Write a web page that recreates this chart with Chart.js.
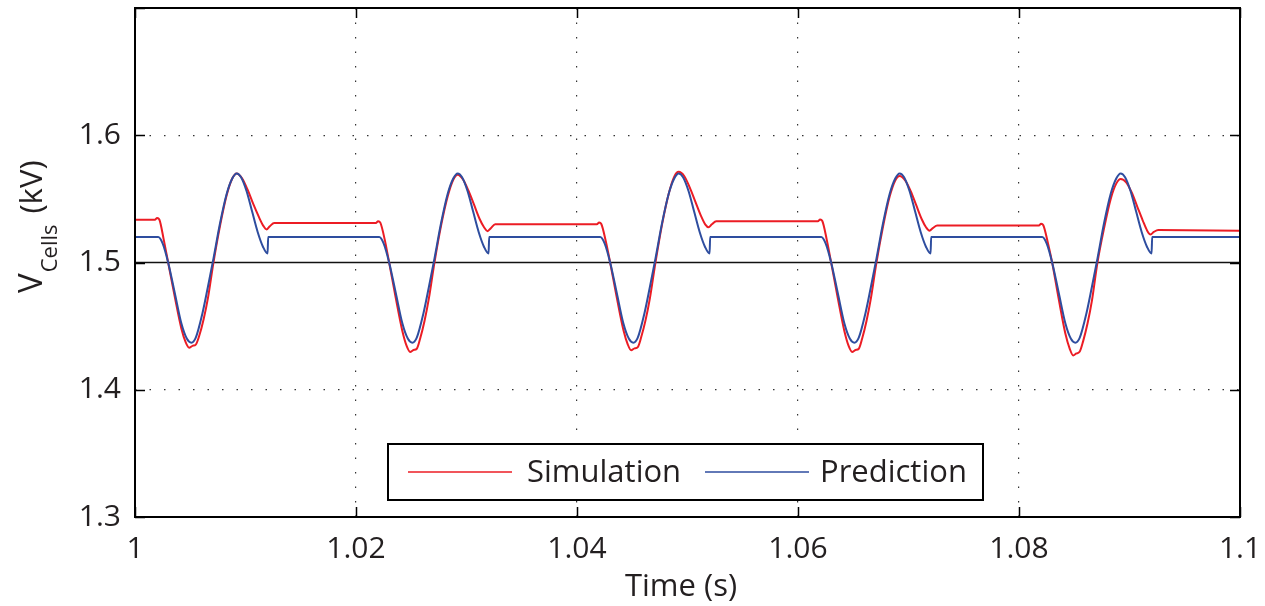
<!DOCTYPE html>
<html>
<head>
<meta charset="utf-8">
<script src="https://cdn.jsdelivr.net/npm/chart.js@4/dist/chart.umd.min.js"></script>
<style>
  html, body { margin: 0; padding: 0; background: #fff; }
</style>
</head>
<body>
<canvas id="canvasChart" width="1265" height="606"></canvas>
<script>
// axis ticks
var xTicks = [1, 1.02, 1.04, 1.06, 1.08, 1.1];
var yTicks = [1.3, 1.4, 1.5, 1.6, 1.7];
var refLevel = 1.5;

// Simulation (red)
var simTime = [
  1.0000, 1.0018, 1.0020, 1.0022, 1.0026, 1.0030, 1.0036, 1.0042, 1.0046, 1.0049, 1.0052, 1.0055, 1.0058, 1.0062,
  1.0066, 1.0071, 1.0077, 1.0083, 1.0088, 1.0092, 1.0097, 1.0102, 1.0107, 1.0112, 1.0116, 1.0119, 1.0122, 1.0126,
  1.0218, 1.0220, 1.0222, 1.0226, 1.0230, 1.0236, 1.0242, 1.0246, 1.0249, 1.0252, 1.0255, 1.0258, 1.0262,
  1.0266, 1.0271, 1.0277, 1.0283, 1.0288, 1.0292, 1.0297, 1.0302, 1.0307, 1.0312, 1.0316, 1.0319, 1.0322, 1.0326,
  1.0418, 1.0420, 1.0422, 1.0426, 1.0430, 1.0436, 1.0442, 1.0446, 1.0449, 1.0452, 1.0455, 1.0458, 1.0462,
  1.0466, 1.0471, 1.0477, 1.0483, 1.0488, 1.0492, 1.0497, 1.0502, 1.0507, 1.0512, 1.0516, 1.0519, 1.0522, 1.0526,
  1.0618, 1.0620, 1.0622, 1.0626, 1.0630, 1.0636, 1.0642, 1.0646, 1.0649, 1.0652, 1.0655, 1.0658, 1.0662,
  1.0666, 1.0671, 1.0677, 1.0683, 1.0688, 1.0692, 1.0697, 1.0702, 1.0707, 1.0712, 1.0716, 1.0719, 1.0722, 1.0726,
  1.0818, 1.0820, 1.0822, 1.0826, 1.0830, 1.0836, 1.0842, 1.0846, 1.0849, 1.0852, 1.0855, 1.0858, 1.0862,
  1.0866, 1.0871, 1.0877, 1.0883, 1.0888, 1.0892, 1.0897, 1.0902, 1.0907, 1.0912, 1.0916, 1.0919, 1.0922, 1.0926,
  1.1000
];
var simVolt = [
  1.5335, 1.5335, 1.5350, 1.5338, 1.5180, 1.5000, 1.4730, 1.4480, 1.4370, 1.4330, 1.4345, 1.4355, 1.4420, 1.4550,
  1.4720, 1.5000, 1.5290, 1.5530, 1.5660, 1.5700, 1.5660, 1.5570, 1.5460, 1.5360, 1.5290, 1.5260, 1.5285, 1.5310,
  1.5310, 1.5325, 1.5313, 1.5180, 1.5000, 1.4720, 1.4460, 1.4340, 1.4297, 1.4312, 1.4322, 1.4400, 1.4540,
  1.4720, 1.5000, 1.5290, 1.5520, 1.5650, 1.5690, 1.5650, 1.5560, 1.5450, 1.5340, 1.5275, 1.5246, 1.5270, 1.5300,
  1.5300, 1.5315, 1.5303, 1.5170, 1.5000, 1.4725, 1.4470, 1.4355, 1.4310, 1.4325, 1.4335, 1.4410, 1.4545,
  1.4720, 1.5000, 1.5300, 1.5540, 1.5675, 1.5713, 1.5680, 1.5590, 1.5480, 1.5370, 1.5300, 1.5277, 1.5300, 1.5324,
  1.5324, 1.5338, 1.5326, 1.5180, 1.5000, 1.4720, 1.4460, 1.4340, 1.4297, 1.4312, 1.4322, 1.4400, 1.4540,
  1.4720, 1.5000, 1.5285, 1.5520, 1.5645, 1.5680, 1.5645, 1.5560, 1.5450, 1.5340, 1.5275, 1.5250, 1.5270, 1.5290,
  1.5290, 1.5305, 1.5293, 1.5160, 1.5000, 1.4710, 1.4440, 1.4320, 1.4270, 1.4285, 1.4300, 1.4380, 1.4520,
  1.4700, 1.5000, 1.5270, 1.5500, 1.5620, 1.5656, 1.5630, 1.5550, 1.5440, 1.5330, 1.5250, 1.5220, 1.5240, 1.5256,
  1.5250
];

// Prediction (blue)
var predTime = [
  1.0000, 1.0021, 1.0025, 1.0030, 1.0036, 1.0042, 1.0047, 1.0051, 1.0055, 1.0061, 1.0066, 1.0071,
  1.0077, 1.0083, 1.0088, 1.0092, 1.0096, 1.0101, 1.0106, 1.0111, 1.0116, 1.0120, 1.01205,
  1.0221, 1.0225, 1.0230, 1.0236, 1.0242, 1.0247, 1.0251, 1.0255, 1.0261, 1.0266, 1.0271,
  1.0277, 1.0283, 1.0288, 1.0292, 1.0296, 1.0301, 1.0306, 1.0311, 1.0316, 1.0320, 1.03205,
  1.0421, 1.0425, 1.0430, 1.0436, 1.0442, 1.0447, 1.0451, 1.0455, 1.0461, 1.0466, 1.0471,
  1.0477, 1.0483, 1.0488, 1.0492, 1.0496, 1.0501, 1.0506, 1.0511, 1.0516, 1.0520, 1.05205,
  1.0621, 1.0625, 1.0630, 1.0636, 1.0642, 1.0647, 1.0651, 1.0655, 1.0661, 1.0666, 1.0671,
  1.0677, 1.0683, 1.0688, 1.0692, 1.0696, 1.0701, 1.0706, 1.0711, 1.0716, 1.0720, 1.07205,
  1.0821, 1.0825, 1.0830, 1.0836, 1.0842, 1.0847, 1.0851, 1.0855, 1.0861, 1.0866, 1.0871,
  1.0877, 1.0883, 1.0888, 1.0892, 1.0896, 1.0901, 1.0906, 1.0911, 1.0916, 1.0920, 1.09205,
  1.1000
];
var predVolt = [
  1.520, 1.520, 1.515, 1.500, 1.476, 1.452, 1.440, 1.437, 1.441, 1.460, 1.481, 1.503,
  1.531, 1.554, 1.566, 1.570, 1.567, 1.556, 1.540, 1.524, 1.512, 1.507, 1.520,
  1.520, 1.515, 1.500, 1.476, 1.452, 1.440, 1.437, 1.441, 1.460, 1.481, 1.503,
  1.531, 1.554, 1.566, 1.570, 1.567, 1.556, 1.540, 1.524, 1.512, 1.507, 1.520,
  1.520, 1.515, 1.500, 1.476, 1.452, 1.440, 1.437, 1.441, 1.460, 1.481, 1.503,
  1.531, 1.554, 1.566, 1.570, 1.567, 1.556, 1.540, 1.524, 1.512, 1.507, 1.520,
  1.520, 1.515, 1.500, 1.476, 1.452, 1.440, 1.437, 1.441, 1.460, 1.481, 1.503,
  1.531, 1.554, 1.566, 1.570, 1.567, 1.556, 1.540, 1.524, 1.512, 1.507, 1.520,
  1.520, 1.515, 1.500, 1.476, 1.452, 1.440, 1.437, 1.441, 1.460, 1.481, 1.503,
  1.531, 1.554, 1.566, 1.570, 1.567, 1.556, 1.540, 1.524, 1.512, 1.507, 1.520,
  1.520
];

var simColor = "#ec1c24";
var predColor = "#2e4d9f";
var textColor = "#231f20";
var fontName = "'Open Sans', 'Noto Sans', sans-serif";

function toPoints(xs, ys) {
  var pts = [];
  for (var i = 0; i < xs.length; i++) {
    pts.push({x: xs[i], y: ys[i]});
  }
  return pts;
}

function fmt(v) {
  return String(parseFloat(v.toFixed(2)));
}

// frame, inner ticks, axis titles and legend in MATLAB style
var matlabDecor = {
  id: "matlabDecor",
  afterDraw: function(chart) {
    var ctx = chart.ctx;
    var a = chart.chartArea;
    var xs = chart.scales.x;
    var ys = chart.scales.y;
    ctx.save();
    ctx.strokeStyle = "#000";
    ctx.lineWidth = 2;
    ctx.strokeRect(a.left, a.top, a.right - a.left, a.bottom - a.top);

    // inward ticks
    ctx.lineWidth = 1.5;
    ctx.beginPath();
    xTicks.forEach(function(v) {
      var px = Math.round(xs.getPixelForValue(v)) + 0.5;
      ctx.moveTo(px, a.bottom); ctx.lineTo(px, a.bottom - 10);
      ctx.moveTo(px, a.top); ctx.lineTo(px, a.top + 10);
    });
    yTicks.forEach(function(v) {
      var py = Math.round(ys.getPixelForValue(v)) + 0.5;
      ctx.moveTo(a.left, py); ctx.lineTo(a.left + 10, py);
      ctx.moveTo(a.right, py); ctx.lineTo(a.right - 10, py);
    });
    ctx.stroke();

    // x title
    ctx.fillStyle = textColor;
    ctx.font = "31px " + fontName;
    ctx.textAlign = "center";
    ctx.textBaseline = "alphabetic";
    ctx.fillText("Time (s)", 681, 596);

    // y title with subscript
    ctx.save();
    ctx.translate(42, 293);
    ctx.rotate(-Math.PI / 2);
    ctx.textAlign = "left";
    ctx.font = "33px " + fontName;
    ctx.fillText("V", 0, 0);
    var w = ctx.measureText("V").width;
    ctx.font = "22px " + fontName;
    ctx.fillText("Cells", w + 1, 15);
    var w2 = ctx.measureText("Cells").width;
    ctx.font = "31px " + fontName;
    ctx.fillText("(kV)", w + w2 + 12, 0);
    ctx.restore();

    // legend box
    var bx = 388, by = 444, bw = 595, bh = 56;
    ctx.fillStyle = "#fff";
    ctx.fillRect(bx, by, bw, bh);
    ctx.lineWidth = 2;
    ctx.strokeStyle = "#000";
    ctx.strokeRect(bx, by, bw, bh);
    var ds = chart.data.datasets;
    var entries = [
      {lineX: 408, textX: 527, d: ds[1]},
      {lineX: 705, textX: 820, d: ds[0]}
    ];
    var my = by + bh / 2;
    entries.forEach(function(e) {
      ctx.strokeStyle = e.d.borderColor;
      ctx.lineWidth = 1.5;
      ctx.beginPath();
      ctx.moveTo(e.lineX, my);
      ctx.lineTo(e.lineX + 104, my);
      ctx.stroke();
      ctx.fillStyle = textColor;
      ctx.font = "31px " + fontName;
      ctx.textAlign = "left";
      ctx.textBaseline = "middle";
      ctx.fillText(e.d.label, e.textX, my + 1);
    });
    ctx.restore();
  }
};

var ctx = document.getElementById("canvasChart");

var chart = new Chart(ctx, {
  type: "line",
  data: {
    datasets: [
      {
        label: "Prediction",
        data: toPoints(predTime, predVolt),
        borderColor: predColor,
        borderWidth: 2,
        pointRadius: 0,
        cubicInterpolationMode: "monotone",
        fill: false,
        order: 0
      },
      {
        label: "Simulation",
        data: toPoints(simTime, simVolt),
        borderColor: simColor,
        borderWidth: 2,
        pointRadius: 0,
        cubicInterpolationMode: "monotone",
        fill: false,
        order: 1
      },
      {
        label: "ref",
        data: [{x: xTicks[0], y: refLevel}, {x: xTicks[xTicks.length - 1], y: refLevel}],
        borderColor: "#111",
        borderWidth: 1.5,
        pointRadius: 0,
        fill: false,
        order: 2
      }
    ]
  },
  options: {
    responsive: false,
    animation: false,
    layout: {padding: {top: 8, right: 25, left: 0, bottom: 0}},
    plugins: {
      legend: {display: false},
      tooltip: {enabled: false}
    },
    scales: {
      x: {
        type: "linear",
        min: 1,
        max: 1.1,
        afterFit: function(s) {
          s.height = 89;
          s.paddingLeft = 0;
          s.paddingRight = 0;
        },
        afterBuildTicks: function(s) { s.ticks = xTicks.map(function(v) { return {value: v}; }); },
        ticks: {
          autoSkip: false,
          maxRotation: 0,
          padding: 14,
          color: textColor,
          font: {family: fontName, size: 30},
          callback: function(v) { return fmt(v); }
        },
        grid: {
          drawTicks: false,
          lineWidth: 1.2,
          color: function(c) {
            var v = c.tick ? c.tick.value : 0;
            return (Math.abs(v - 1) < 1e-6 || Math.abs(v - 1.1) < 1e-6) ? "rgba(0,0,0,0)" : "#333";
          }
        },
        border: {display: false, dash: [1.5, 13]}
      },
      y: {
        min: 1.3,
        max: 1.7,
        afterFit: function(s) {
          s.width = 135;
          s.paddingTop = 0;
          s.paddingBottom = 0;
        },
        afterBuildTicks: function(s) { s.ticks = yTicks.map(function(v) { return {value: v}; }); },
        ticks: {
          padding: 14,
          color: textColor,
          font: {family: fontName, size: 30},
          callback: function(v) { return Math.abs(v - 1.7) < 1e-6 ? "" : fmt(v); }
        },
        grid: {
          drawTicks: false,
          lineWidth: 1.2,
          color: function(c) {
            var v = c.tick ? c.tick.value : 0;
            return (Math.abs(v - 1.4) < 1e-6 || Math.abs(v - 1.6) < 1e-6) ? "#333" : "rgba(0,0,0,0)";
          }
        },
        border: {display: false, dash: [1.5, 13]}
      }
    }
  },
  plugins: [matlabDecor]
});
</script>
</body>
</html>
